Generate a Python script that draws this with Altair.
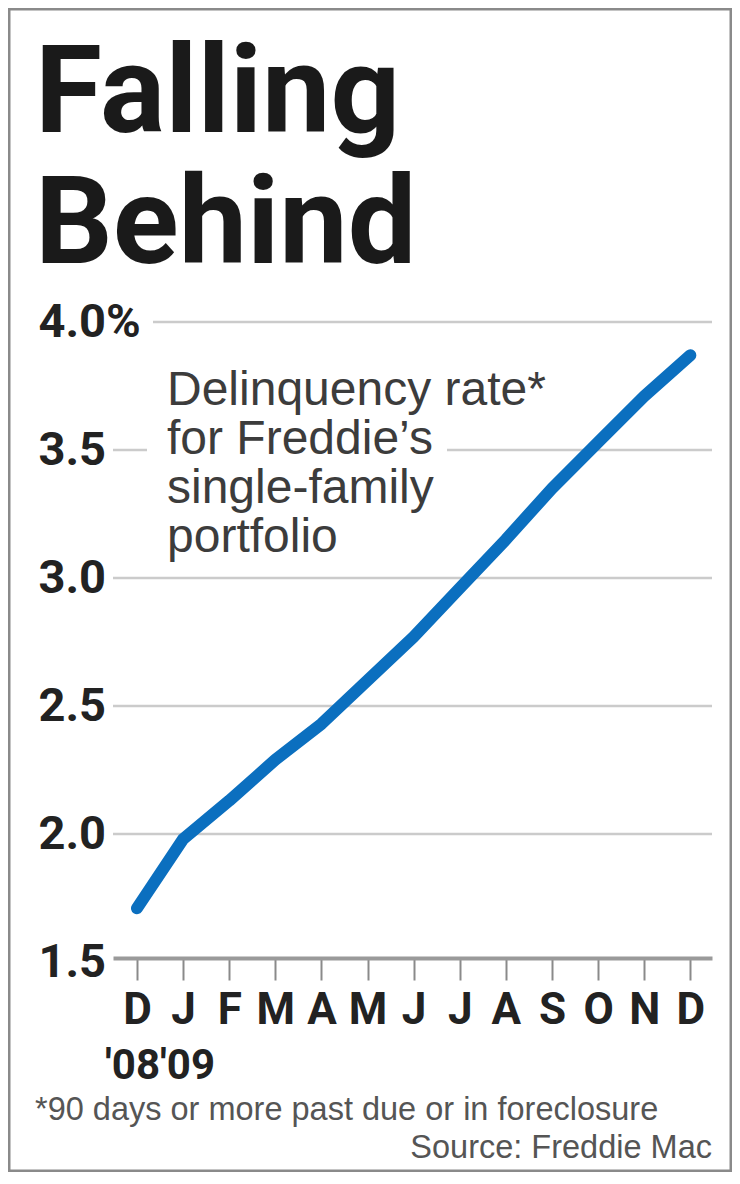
import json
import altair as alt
import pandas as pd

# ---- data ----
months = ["D", "J", "F", "M", "A", "M", "J", "J", "A", "S", "O", "N", "D"]
year_label = "'08'09"
rates = [1.71, 1.98, 2.13, 2.29, 2.43, 2.60, 2.77, 2.96, 3.15, 3.35, 3.53, 3.71, 3.87]
y_ticks = [1.5, 2.0, 2.5, 3.0, 3.5, 4.0]
grid_values = [2.0, 2.5, 3.0, 3.5]
top_grid_value = [4.0]
title_lines = ["Falling", "Behind"]
note_lines = ["Delinquency rate*", "for Freddie\u2019s", "single-family", "portfolio"]
footnote = "*90 days or more past due or in foreclosure"
source = "Source: Freddie Mac"

W, H = 599, 640

df = pd.DataFrame({"i": list(range(len(months))), "month": months, "rate": rates})
one = pd.DataFrame({"k": [0]})
# year label sits centred between the first two month ticks
years_df = pd.DataFrame({"i": [(0 + 1) / 2], "t": [year_label]})

x_scale = alt.Scale(domain=[-0.52, 12.47], nice=False, zero=False)
y_scale = alt.Scale(domain=[1.5, 4.0], nice=False, zero=False)

x_label_expr = json.dumps(months) + "[datum.value]"

BOLD = "Roboto"
SANS = "Liberation Sans"

y_axis = alt.Axis(
    values=y_ticks,
    labelExpr="datum.value == 4 ? '4.0%' : format(datum.value, '.1f')",
    title=None, grid=False, domain=False, ticks=False,
    labelAlign="left", labelPadding=75, labelFont=BOLD,
    labelFontWeight="bold", labelFontSize=47, labelColor="#222222",
    labelBaseline="middle", labelOverlap=False, labelFlush=False,
)

x_axis = alt.Axis(
    values=list(range(len(months))), labelExpr=x_label_expr, title=None,
    grid=False, domainColor="#9a9a9a", domainWidth=4,
    tickColor="#8a8a8a", tickWidth=2, tickSize=22,
    labelFont=BOLD, labelFontWeight="bold", labelFontSize=44,
    labelColor="#222222", labelPadding=8,
    labelBaseline="top", labelAngle=0, labelOverlap=False,
    labelFlush=False, offset=-4,
)

grid = alt.Chart(pd.DataFrame({"v": grid_values})).mark_rule(
    color="#cbcbcb", strokeWidth=2.5
).encode(
    y=alt.Y("v:Q", scale=y_scale, axis=y_axis),
    x=alt.value(0),
    x2=alt.value(W),
)

top_grid = alt.Chart(pd.DataFrame({"v": top_grid_value})).mark_rule(
    color="#cbcbcb", strokeWidth=2.5
).encode(
    y=alt.Y("v:Q", scale=y_scale, axis=y_axis),
    x=alt.value(40),
    x2=alt.value(W),
)

mask = alt.Chart(one).mark_rect(color="white").encode(
    x=alt.value(34), x2=alt.value(334), y=alt.value(112), y2=alt.value(144)
)

note = alt.Chart(one).mark_text(
    text=note_lines, align="left", baseline="alphabetic", font=SANS,
    fontSize=48, lineHeight=49, color="#3c3c3c"
).encode(x=alt.value(54), y=alt.value(83))

title = alt.Chart(one).mark_text(
    text=title_lines, align="left", baseline="alphabetic", font=BOLD,
    fontWeight="bold", fontSize=122, lineHeight=131, color="#1a1a1a"
).encode(x=alt.value(-78), y=alt.value(-190))

years = alt.Chart(years_df).mark_text(
    align="center", baseline="alphabetic", font=BOLD, fontWeight="bold",
    fontSize=42, color="#222222"
).encode(
    x=alt.X("i:Q", scale=x_scale, axis=x_axis),
    y=alt.value(757),
    text="t:N",
)

foot = alt.Chart(one).mark_text(
    text=footnote, align="left", baseline="alphabetic", font=SANS,
    fontSize=32.5, color="#555555"
).encode(x=alt.value(-78), y=alt.value(798))

src = alt.Chart(one).mark_text(
    text=source, align="right", baseline="alphabetic", font=SANS,
    fontSize=32.5, color="#555555"
).encode(x=alt.value(W), y=alt.value(836))

border = alt.Chart(one).mark_rect(
    fill=None, stroke="#8a8a8a", strokeWidth=3
).encode(
    x=alt.value(-104), x2=alt.value(W + 19), y=alt.value(-313), y2=alt.value(H + 209)
)

line = alt.Chart(df).mark_line(
    color="#0b6fbf", strokeWidth=12, strokeCap="round", strokeJoin="round"
).encode(
    x=alt.X("i:Q", scale=x_scale, axis=x_axis),
    y=alt.Y("rate:Q", scale=y_scale, axis=y_axis),
)

chart = alt.layer(border, grid, top_grid, mask, note, title, years, foot, src, line).properties(
    width=W, height=H,
    autosize=alt.AutoSizeParams(type="none"),
    padding={"left": 105, "top": 314, "right": 20, "bottom": 210},
    background="white",
).configure_view(stroke=None)

chart.save("out.html", embed_options={"renderer": "svg", "actions": False})
